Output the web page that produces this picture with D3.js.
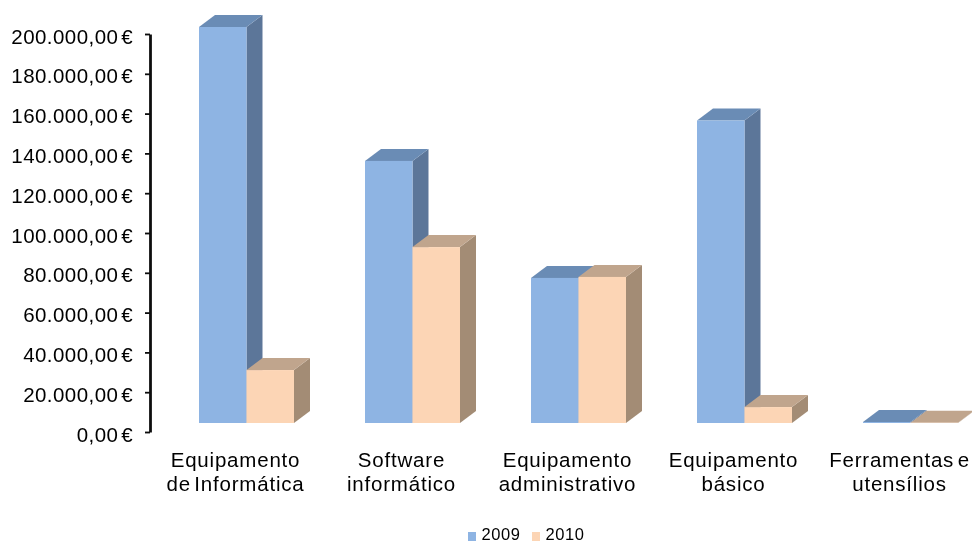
<!DOCTYPE html>
<html><head><meta charset="utf-8">
<script src="https://cdn.jsdelivr.net/npm/d3@7/dist/d3.min.js"></script>
<style>html,body{margin:0;padding:0;background:#fff;overflow:hidden}svg{display:block}text{font-family:"Liberation Sans",Arial,sans-serif;fill:#000}</style>
</head><body><div id="c"></div>
<script>
const categories=[["Equipamento","de Informática"],["Software","informático"],["Equipamento","administrativo"],["Equipamento","básico"],["Ferramentas e","utensílios"]];
const seriesNames=["2009","2010"];
const values2009=[199000,131700,72900,152000,500];
const values2010=[26600,88400,73400,8000,100];
const tickValues=[0,20000,40000,60000,80000,100000,120000,140000,160000,180000,200000];
const tickLabels=["0,00 €","20.000,00 €","40.000,00 €","60.000,00 €","80.000,00 €","100.000,00 €","120.000,00 €","140.000,00 €","160.000,00 €","180.000,00 €","200.000,00 €"];
const colors={front:["#8EB4E3","#FCD5B5"],top:["#6B8CB5","#C0A58D"],side:["#5C7699","#A38C75"]};

const W=972,H=544,depthX=16,depthY=12,wallShift=9;
const svg=d3.select("#c").append("svg").attr("width",W).attr("height",H);
const defs=svg.append("defs");
defs.append("filter").attr("id","soft").attr("filterUnits","userSpaceOnUse").attr("x",0).attr("y",0).attr("width",W).attr("height",H)
  .append("feGaussianBlur").attr("stdDeviation",0.45);
const g=svg.append("g").attr("filter","url(#soft)");
const names=categories.map(c=>c.join(" "));
const x0=d3.scaleBand().domain(names).range([163,993]);
const x1=d3.scaleBand().domain(seriesNames).range([36,131]);
const y=d3.scaleLinear().domain([0,200000]).range([432,34]);

// axis
const axis=d3.axisLeft(y).tickValues(tickValues).tickSizeInner(5).tickSizeOuter(0).tickFormat(d=>tickLabels[tickValues.indexOf(d)]);
const ag=g.append("g").attr("transform","translate(150,0)").call(axis);
ag.select(".domain").attr("stroke","#111").attr("stroke-width",2.8);
ag.selectAll(".tick line").attr("stroke","#111").attr("stroke-width",1.8);
ag.selectAll(".tick text").attr("x",-17).attr("y",9).attr("dy",0).attr("font-size",20.5)
  .attr("letter-spacing",0.45).attr("word-spacing",-3.4)
  .style("font-family",'"Liberation Sans"').attr("fill","#000");

// bars
const rows=[];
names.forEach((n,i)=>{seriesNames.forEach((s,j)=>rows.push({n,s,j,v:(j?values2010:values2009)[i]}));});
const bars=g.selectAll("g.bar").data(rows).join("g").attr("class","bar");
bars.each(function(d){
  const b=d3.select(this);
  const l=x0(d.n)+x1(d.s), r=l+x1.bandwidth(), t=y(d.v)-wallShift, bt=y(0)-wallShift;
  b.append("path").attr("fill",colors.side[d.j]).attr("d",d3.line()([[r,t],[r+depthX,t-depthY],[r+depthX,bt-depthY],[r,bt]]));
  b.append("path").attr("fill",colors.top[d.j]).attr("d",d3.line()([[l,t],[l+depthX,t-depthY],[r+depthX,t-depthY],[r,t]]));
  b.append("rect").attr("fill",colors.front[d.j]).attr("x",l).attr("y",t).attr("width",r-l).attr("height",bt-t);
});

// category labels
categories.forEach((c,i)=>{
  const cx=x0(names[i])+72.5;
  c.forEach((line,k)=>g.append("text").attr("x",cx).attr("y",467+k*23.5).attr("text-anchor","middle")
    .attr("font-size",20.5).attr("letter-spacing",0.8).attr("word-spacing",-3).text(line));
});

// legend
const lx=d3.scaleOrdinal().domain(seriesNames).range([468,532]);
seriesNames.forEach((s,j)=>{
  g.append("rect").attr("x",lx(s)).attr("y",532).attr("width",8).attr("height",9).attr("fill",colors.front[j]);
  g.append("text").attr("x",lx(s)+13.5).attr("y",540).attr("font-size",16.5).attr("letter-spacing",0.6).text(s);
});
</script></body></html>
